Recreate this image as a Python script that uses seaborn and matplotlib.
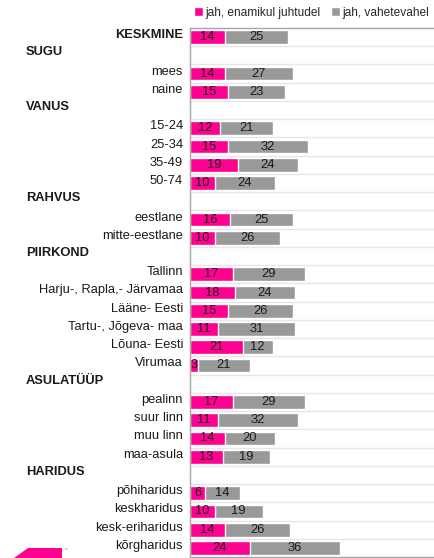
import numpy as np
import pandas as pd
import matplotlib
matplotlib.use("Agg")
import matplotlib.pyplot as plt
import matplotlib.transforms as mtransforms
import seaborn as sns
from matplotlib.patches import Polygon

categories = ["KESKMINE", "SUGU", "mees", "naine", "VANUS", "15-24", "25-34", "35-49", "50-74",
              "RAHVUS", "eestlane", "mitte-eestlane", "PIIRKOND", "Tallinn",
              "Harju-, Rapla,- Järvamaa", "Lääne- Eesti", "Tartu-, Jõgeva- maa", "Lõuna- Eesti",
              "Virumaa", "ASULATÜÜP", "pealinn", "suur linn", "muu linn", "maa-asula",
              "HARIDUS", "põhiharidus", "keskharidus", "kesk-eriharidus", "kõrgharidus"]
headers = ["SUGU", "VANUS", "RAHVUS", "PIIRKOND", "ASULATÜÜP", "HARIDUS"]
mostly = [14, None, 14, 15, None, 12, 15, 19, 10, None, 16, 10, None, 17, 18, 15, 11, 21, 3,
          None, 17, 11, 14, 13, None, 6, 10, 14, 24]
sometimes = [25, None, 27, 23, None, 21, 32, 24, 24, None, 25, 26, None, 29, 24, 26, 31, 12, 21,
             None, 29, 32, 20, 19, None, 14, 19, 26, 36]
series_names = ["jah, enamikul juhtudel", "jah, vahetevahel"]

PINK = "#FF0090"
GRAY = "#999999"

sns.set_style("white")
plt.rcParams["font.family"] = ["Liberation Sans", "DejaVu Sans"]

df = pd.DataFrame({"cat": categories,
                   "m": [v if v is not None else 0 for v in mostly],
                   "s": [v if v is not None else 0 for v in sometimes]})
df["total"] = df["m"] + df["s"]

W, H = 434, 558
fig = plt.figure(figsize=(W / 100, H / 100), dpi=100)
ax = fig.add_axes([190 / W, 1 - 557.1 / H, 1 - 190 / W, (557.1 - 27.9) / H])

sns.barplot(data=df, x="total", y="cat", order=categories, color=GRAY, width=0.75,
            ax=ax, label=series_names[1], orient="h", saturation=1)
sns.barplot(data=df, x="m", y="cat", order=categories, color=PINK, width=0.75,
            ax=ax, label=series_names[0], orient="h", saturation=1)
if ax.get_legend() is not None:
    ax.get_legend().remove()

ax.set_xlim(0, 97.6)
ax.set_ylim(len(categories) - 0.5, -0.5)
ax.set_xlabel("")
ax.set_ylabel("")
ax.set_xticks([])
ax.set_yticks([])
ax.set_yticks(np.arange(0.5, len(categories) - 0.5), minor=True)
ax.tick_params(axis="y", which="minor", length=0)
ax.grid(which="minor", axis="y", color="#e6e6e6", linewidth=1)
ax.set_axisbelow(True)
for side in ["left", "top", "bottom"]:
    ax.spines[side].set_color("#a6a6a6")
    ax.spines[side].set_linewidth(1)
ax.spines["right"].set_visible(False)

fs = 9.3
txt_color = "#1a1a1a"
head_tr = mtransforms.blended_transform_factory(fig.transFigure, ax.transData)
for i, (cat, m, s) in enumerate(zip(categories, mostly, sometimes)):
    if cat in headers:
        ax.text(26 / W, i - 0.16, cat, transform=head_tr, ha="left", va="center",
                fontsize=fs, fontweight="bold", color=txt_color)
    else:
        bold = cat == "KESKMINE"
        ax.annotate(cat, xy=(0, i), xycoords=("axes fraction", "data"), xytext=(-7, 2),
                    textcoords="offset pixels", ha="right", va="center", fontsize=fs,
                    fontweight="bold" if bold else "normal", color=txt_color)
        ax.text(m / 2, i, str(m), ha="center", va="center", fontsize=fs, color=txt_color)
        ax.text(m + s / 2, i, str(s), ha="center", va="center", fontsize=fs, color=txt_color)

handles, labels = ax.get_legend_handles_labels()
order = [labels.index(series_names[0]), labels.index(series_names[1])]
leg = fig.legend([handles[k] for k in order], [labels[k] for k in order],
                 loc="center left", bbox_to_anchor=(194 / W, 1 - 13 / H), ncol=2,
                 frameon=False, fontsize=8.6, handlelength=0.75, handleheight=0.75,
                 handletextpad=0.2, columnspacing=0.9, borderpad=0, borderaxespad=0)

# logo
fig.patches.append(Polygon([(14 / W, 0), (28 / W, 1 - 548 / H), (62 / W, 1 - 548 / H), (62 / W, 0)],
                           closed=True, transform=fig.transFigure, facecolor=PINK, edgecolor="none"))
fig.text(64 / W, 1 - 550 / H, "™", fontsize=3, color="#888888", ha="left", va="center")

fig.savefig("out.png", dpi=100)
